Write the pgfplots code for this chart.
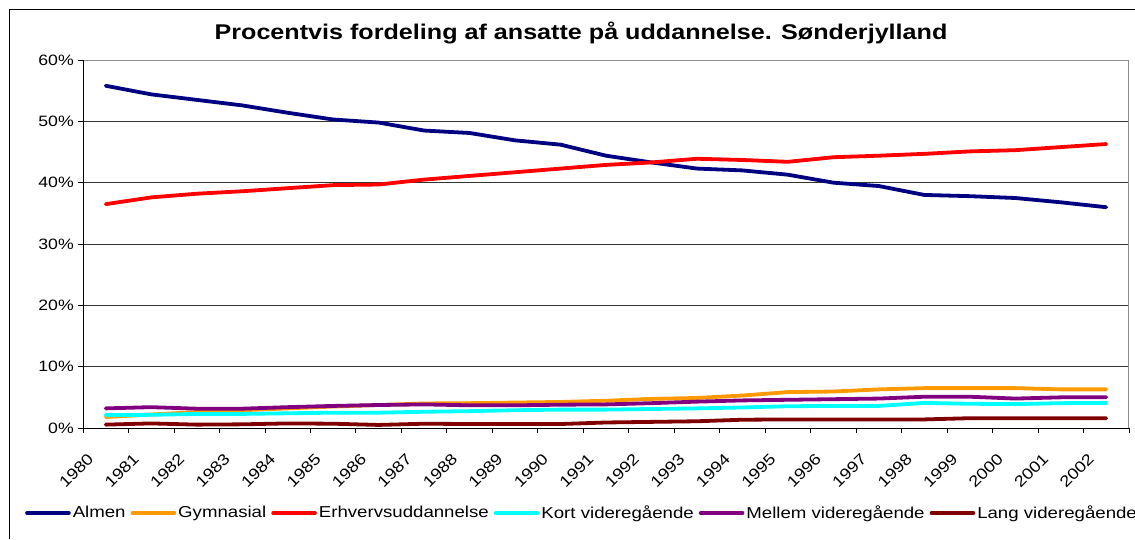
\documentclass[border=0pt]{standalone}
\usepackage{fontspec}
\setmainfont{Liberation Sans}[FakeStretch=1.18]
\usepackage{pgfplots}
\usepackage{pgfplotstable}
\pgfplotsset{compat=1.18}
\definecolor{almen}{HTML}{000080}
\definecolor{gym}{HTML}{FF9900}
\definecolor{erhv}{HTML}{FF0000}
\definecolor{kort}{HTML}{00FFFF}
\definecolor{mellem}{HTML}{800080}
\definecolor{lang}{HTML}{800000}
\pgfplotstableread{
i Almen Gym Erhv Kort Mellem Lang
0 55.8 1.8 36.5 2.1 3.2 0.55
1 54.4 2.2 37.6 2.15 3.4 0.75
2 53.5 2.6 38.2 2.3 3.15 0.55
3 52.6 2.9 38.6 2.3 3.15 0.6
4 51.4 3.2 39.1 2.4 3.4 0.75
5 50.3 3.5 39.6 2.5 3.6 0.7
6 49.8 3.75 39.7 2.5 3.75 0.5
7 48.5 4.0 40.5 2.65 3.85 0.7
8 48.1 4.05 41.1 2.75 3.7 0.65
9 46.9 4.15 41.7 2.9 3.7 0.65
10 46.2 4.25 42.3 3.0 3.8 0.65
11 44.4 4.45 42.9 3.0 3.85 0.9
12 43.3 4.75 43.3 3.1 4.05 1.0
13 42.3 4.9 43.9 3.2 4.3 1.1
14 42.0 5.3 43.7 3.35 4.5 1.35
15 41.3 5.85 43.4 3.55 4.6 1.4
16 40.0 5.95 44.15 3.6 4.7 1.4
17 39.45 6.3 44.4 3.6 4.8 1.4
18 38.0 6.5 44.7 4.1 5.1 1.4
19 37.8 6.5 45.1 3.95 5.1 1.6
20 37.5 6.5 45.3 3.9 4.8 1.6
21 36.8 6.3 45.8 4.05 5.0 1.6
22 36.0 6.3 46.3 4.1 5.0 1.6
}\datatable
\begin{document}
\begin{tikzpicture}
\useasboundingbox (0pt,0pt) rectangle (1135pt,-539pt);
\fill[white] (0pt,0pt) rectangle (1135pt,-539pt);
\draw[black, line width=1pt] (9pt,-539pt) -- (9pt,-9pt) -- (1135pt,-9pt);
\node[anchor=base, font=\fontsize{21.3}{24}\selectfont\bfseries] at (581pt,-39pt) {Procentvis fordeling af ansatte på uddannelse. Sønderjylland};
\begin{axis}[
  at={(83pt,-428pt)}, anchor=south west,
  scale only axis, width=1046pt, height=368pt,
  xmin=-0.5, xmax=22.5, ymin=0, ymax=60,
  axis line style={draw=none},
  xtick={-0.5,0.5,...,22.5},
  x tick label as interval,
  xticklabels={1980,1981,1982,1983,1984,1985,1986,1987,1988,1989,1990,1991,1992,1993,1994,1995,1996,1997,1998,1999,2000,2001,2002},
  ytick={0,10,...,60},
  yticklabels={0\%,10\%,20\%,30\%,40\%,50\%,60\%},
  xtick pos=bottom, ytick pos=left,
  tick align=outside, major tick length=5pt,
  tick style={black, line width=0.8pt},
  ymajorgrids, grid style={black!80, line width=0.9pt},
  yticklabel style={font=\fontsize{15}{17}\selectfont, anchor=east, inner sep=0pt, xshift=-4pt},
  xticklabel style={font=\fontsize{15.5}{17}\selectfont, inner sep=0pt, anchor=north east, xshift=-19pt, yshift=-19pt, rotate=45},
  legend columns=-1,
  legend style={draw=none, fill=none, at={(axis description cs:-0.0555,-0.231)}, anchor=west,
    font=\fontsize{15.8}{18}\selectfont, inner sep=0pt,
    nodes={inner sep=2pt},
    /tikz/every even column/.append style={column sep=3pt}},
  legend image code/.code={\draw[#1, line width=3.6pt, line cap=round] (0pt,0pt) -- (42pt,0pt);},
  every axis plot/.append style={line width=3.8pt, line join=round, line cap=round},
  after end axis/.code={
    \draw[black!45, line width=1pt] (rel axis cs:0,1) -- (rel axis cs:1,1) -- (rel axis cs:1,0);
    \draw[black, line width=1pt] (rel axis cs:0,1) -- (rel axis cs:0,0) -- (rel axis cs:1,0);
  },
]
\addplot[almen] table[x=i, y=Almen] {\datatable};
\addlegendentry{Almen}
\addplot[gym] table[x=i, y=Gym] {\datatable};
\addlegendentry{Gymnasial}
\addplot[erhv] table[x=i, y=Erhv] {\datatable};
\addlegendentry{Erhvervsuddannelse}
\addplot[kort] table[x=i, y=Kort] {\datatable};
\addlegendentry{Kort videregående}
\addplot[mellem] table[x=i, y=Mellem] {\datatable};
\addlegendentry{Mellem videregående}
\addplot[lang] table[x=i, y=Lang] {\datatable};
\addlegendentry{Lang videregående}
\end{axis}
\end{tikzpicture}
\end{document}
